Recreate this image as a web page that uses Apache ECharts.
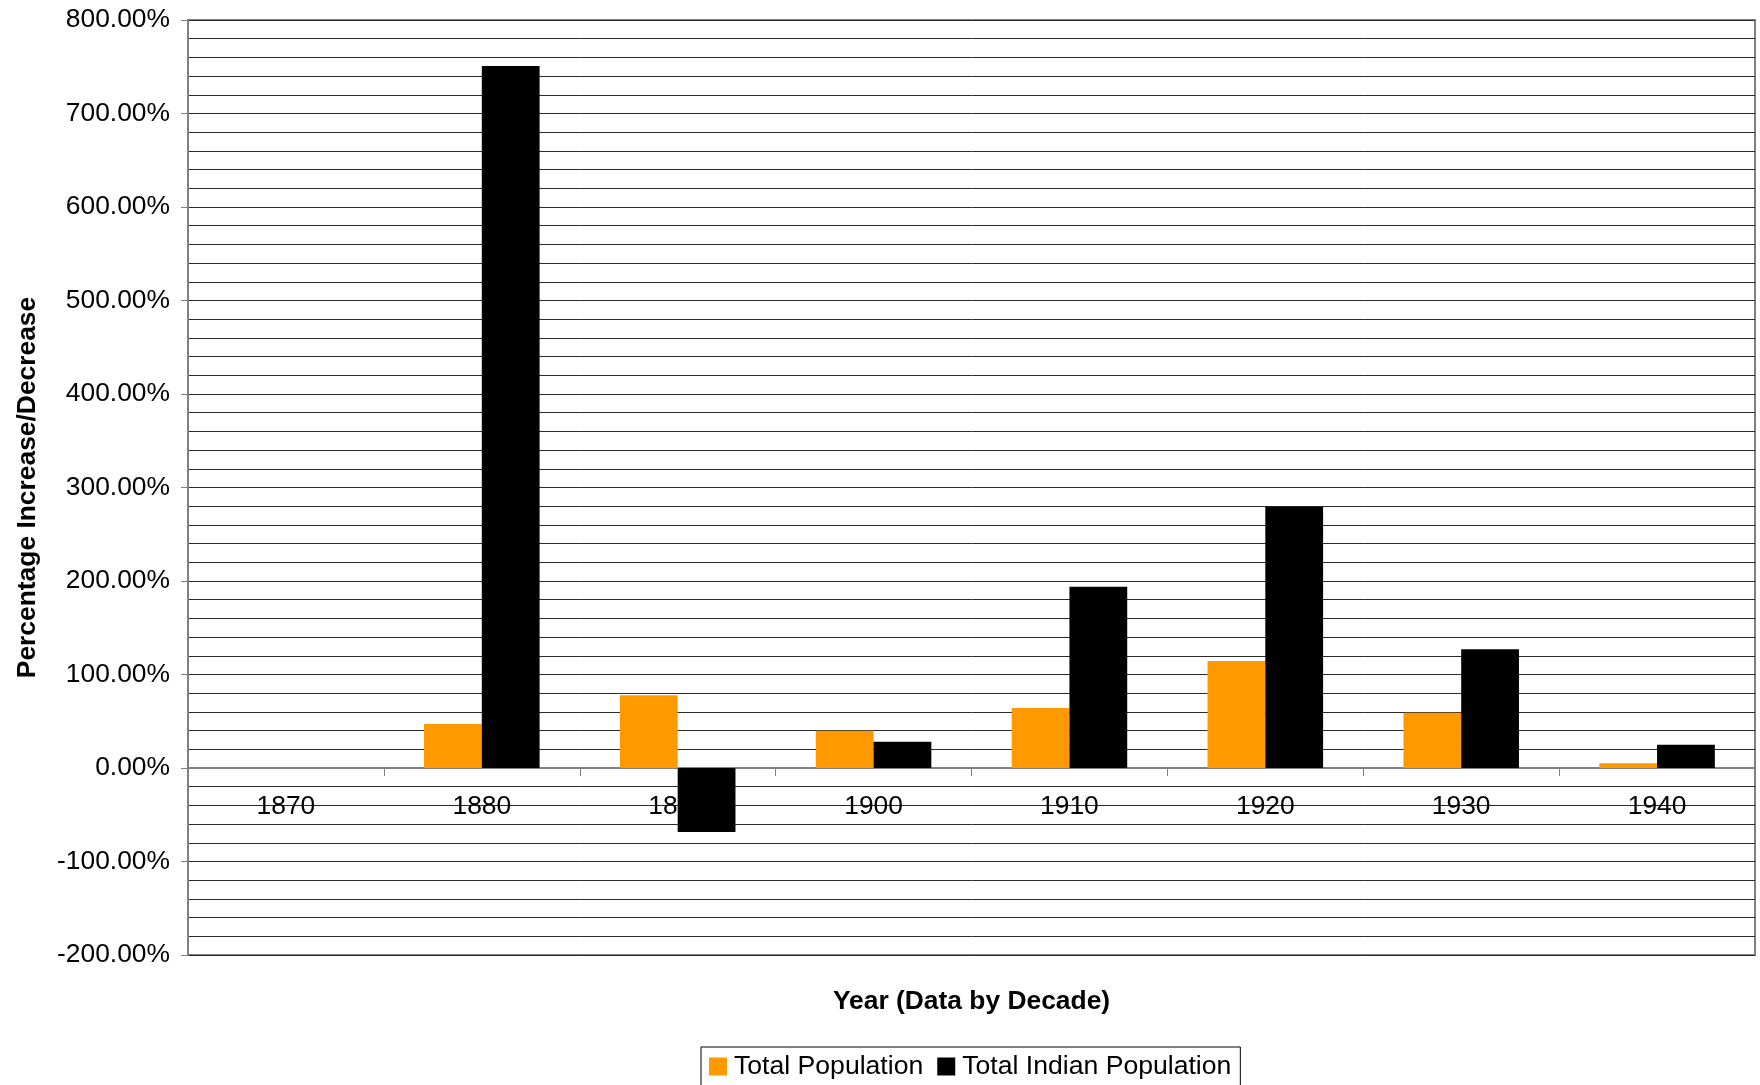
<!DOCTYPE html>
<html>
<head>
<meta charset="utf-8">
<title>Percentage Increase/Decrease by Decade</title>
<script src="https://cdn.jsdelivr.net/npm/echarts@6/dist/echarts.min.js"></script>
<style>
  html, body { margin: 0; padding: 0; background: #fff; }
  #chart { width: 1760px; height: 1085px; }
</style>
</head>
<body>
<div id="chart"></div>
<script>
// Decades on the category axis
const years = ['1870', '1880', '1890', '1900', '1910', '1920', '1930', '1940'];

// Percentage change from the previous decade (no value for the first decade)
const totalPopulation = [null, 47.0, 77.8, 39.9, 64.2, 114.4, 59.2, 5.0];
const totalIndianPopulation = [null, 750.8, -68.5, 28.1, 193.9, 279.5, 127.0, 24.9];

// Value axis range and steps
const yMin = -200;
const yMax = 800;
const yLabelStep = 100;
const yGridSubdivisions = 5;

const FONT = '"Liberation Sans", Arial, sans-serif';

// Plot area geometry
const gridTop = 20;
const gridBottom = 130;
const chartHeight = 1085;
const plotHeight = chartHeight - gridTop - gridBottom;
// Category axis sits on the zero line: shift it up from the plot bottom
const zeroOffset = -plotHeight * (0 - yMin) / (yMax - yMin);

const chart = echarts.init(document.getElementById('chart'));

chart.setOption({
  animation: false,
  backgroundColor: '#ffffff',
  textStyle: { fontFamily: FONT, color: '#000' },
  grid: {
    left: 188,
    right: 5,
    top: gridTop,
    bottom: gridBottom,
    containLabel: false,
    outerBoundsMode: 'none',
    show: true,
    borderColor: '#808080',
    borderWidth: 2,
    backgroundColor: 'transparent'
  },
  legend: {
    data: ['Total Population', 'Total Indian Population'],
    left: 701,
    top: 1047,
    orient: 'horizontal',
    itemWidth: 18,
    itemHeight: 18,
    itemGap: 14,
    padding: [6, 9, 6, 8],
    borderColor: '#000',
    borderWidth: 1,
    icon: 'rect',
    textStyle: { fontFamily: FONT, fontSize: 26.6, color: '#000', lineHeight: 26, padding: [0, 0, 0, 2] }
  },
  xAxis: {
    type: 'category',
    data: years,
    position: 'bottom',
    offset: zeroOffset,
    boundaryGap: true,
    axisLine: { onZero: false, lineStyle: { color: '#808080', width: 2 } },
    axisTick: { show: true, length: 8, lineStyle: { color: '#808080', width: 1 } },
    axisLabel: { fontFamily: FONT, fontSize: 26.4, color: '#000', margin: 26 },
    splitLine: { show: false },
    name: 'Year (Data by Decade)',
    nameLocation: 'middle',
    nameGap: 221,
    nameTextStyle: { fontFamily: FONT, fontSize: 26.4, fontWeight: 'bold', color: '#000' }
  },
  yAxis: {
    type: 'value',
    min: yMin,
    max: yMax,
    interval: yLabelStep,
    axisLine: { show: true, onZero: false, lineStyle: { color: '#808080', width: 2 } },
    axisTick: { show: true, length: 7, lineStyle: { color: '#808080', width: 1 } },
    axisLabel: {
      fontFamily: FONT,
      fontSize: 26.4,
      color: '#000',
      margin: 18,
      formatter: v => v.toFixed(2) + '%'
    },
    splitLine: { show: true, lineStyle: { color: '#2a2a2a', width: 1 } },
    minorTick: { show: false, splitNumber: yGridSubdivisions },
    minorSplitLine: { show: true, lineStyle: { color: '#2a2a2a', width: 1 } },
    name: 'Percentage Increase/Decrease',
    nameLocation: 'middle',
    nameGap: 147,
    nameRotate: 90,
    nameTextStyle: { fontFamily: FONT, fontSize: 26.4, fontWeight: 'bold', color: '#000' }
  },
  series: [
    {
      name: 'Total Population',
      type: 'bar',
      data: totalPopulation,
      barGap: '0%',
      barCategoryGap: '41%',
      itemStyle: { color: '#FF9900' }
    },
    {
      name: 'Total Indian Population',
      type: 'bar',
      data: totalIndianPopulation,
      barGap: '0%',
      barCategoryGap: '41%',
      itemStyle: { color: '#000000' }
    }
  ]
});
</script>
</body>
</html>
